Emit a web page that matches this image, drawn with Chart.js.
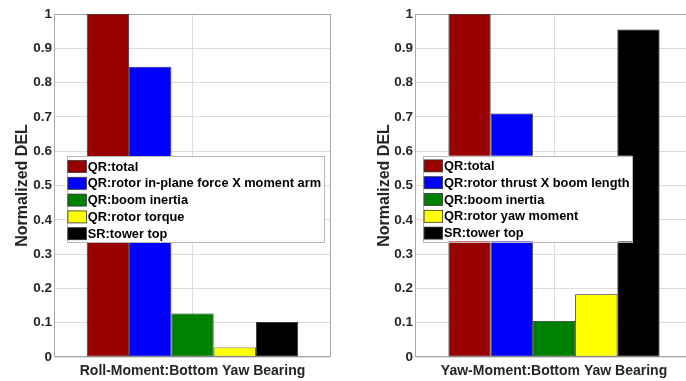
<!DOCTYPE html>
<html>
<head>
<meta charset="utf-8">
<script src="https://cdn.jsdelivr.net/npm/chart.js@4.4.1/dist/chart.umd.min.js"></script>
<style>
  html, body { margin: 0; padding: 0; background: #ffffff; width: 686px; height: 381px; overflow: hidden; }
  canvas.panel { position: absolute; top: 0; }
  #rollChart { left: 0; }
  #yawChart { left: 340px; }
</style>
</head>
<body>
<canvas id="rollChart" class="panel" width="340" height="381"></canvas>
<canvas id="yawChart" class="panel" width="360" height="381"></canvas>
<script>
// Normalized damage-equivalent loads at the bottom yaw bearing
const rollCategory = ['Roll-Moment:Bottom Yaw Bearing'];
const yawCategory = ['Yaw-Moment:Bottom Yaw Bearing'];

const rollSeriesNames = [
  'QR:total',
  'QR:rotor in-plane force X moment arm',
  'QR:boom inertia',
  'QR:rotor torque',
  'SR:tower top'
];
const yawSeriesNames = [
  'QR:total',
  'QR:rotor thrust X boom length',
  'QR:boom inertia',
  'QR:rotor yaw moment',
  'SR:tower top'
];

const rollValues = [1.0, 0.846, 0.127, 0.028, 0.102];
const yawValues = [1.0, 0.710, 0.105, 0.183, 0.955];

const yTickLabels = ['0', '0.1', '0.2', '0.3', '0.4', '0.5', '0.6', '0.7', '0.8', '0.9', '1'];

const seriesColors = ['#990000', '#0000ff', '#008000', '#ffff00', '#000000'];

const FONT = '"Liberation Sans", Arial, Helvetica, sans-serif';
const AXIS_TEXT = '#262626';

// Grey box around the plotting area
const frameBox = {
  id: 'frameBox',
  beforeDatasetsDraw(chart) {
    const a = chart.chartArea, ctx = chart.ctx;
    ctx.save();
    ctx.strokeStyle = '#a9a9a9';
    ctx.lineWidth = 1;
    ctx.strokeRect(Math.round(a.left) - 0.5, Math.round(a.top) + 0.5,
                   Math.round(a.right - a.left) + 1, Math.round(a.bottom - a.top) - 1);
    ctx.restore();
  }
};

// Legend drawn as a boxed list inside the plotting area
const boxLegend = {
  id: 'boxLegend',
  afterDraw(chart, args, opts) {
    const ctx = chart.ctx, area = chart.chartArea;
    const sets = chart.data.datasets;
    ctx.save();
    ctx.font = 'bold 12.8px ' + FONT;
    let maxW = 0;
    sets.forEach(d => { maxW = Math.max(maxW, ctx.measureText(d.label).width); });
    const sw = 18.5, sh = 12, rowH = 16.8, padTop = 10.2, padBottom = 8.4;
    const x0 = area.left + opts.offsetX, y0 = opts.top;
    const w = 1.4 + sw + 1.4 + maxW + 2.5;
    const h = padTop + rowH * (sets.length - 1) + padBottom;
    ctx.fillStyle = '#ffffff';
    ctx.fillRect(x0, y0, w, h);
    ctx.strokeStyle = '#b8b8b8';
    ctx.lineWidth = 1;
    ctx.strokeRect(Math.round(x0) + 0.5, Math.round(y0) + 0.5, Math.round(w), Math.round(h));
    sets.forEach((d, i) => {
      const cy = y0 + padTop + i * rowH;
      const sx = x0 + 1.4;
      ctx.fillStyle = d.backgroundColor;
      ctx.fillRect(sx, cy - sh / 2, sw, sh);
      ctx.strokeStyle = '#333333';
      ctx.lineWidth = 0.8;
      ctx.strokeRect(sx, cy - sh / 2, sw, sh);
      ctx.fillStyle = '#000000';
      ctx.textBaseline = 'middle';
      ctx.textAlign = 'left';
      ctx.fillText(d.label, sx + sw + 1.4, cy + 0.5);
    });
    ctx.restore();
  }
};

function makePanel(canvasId, category, names, values, yAxisWidth, titlePad, padRight, groupFrac, legendOpts) {
  const datasets = names.map((name, i) => ({
    label: name,
    data: [values[i]],
    backgroundColor: seriesColors[i],
    borderColor: '#1f1f1f',
    borderWidth: 0.8,
    borderSkipped: false,
    barPercentage: 1.0,
    categoryPercentage: groupFrac
  }));
  return new Chart(document.getElementById(canvasId), {
    type: 'bar',
    data: { labels: category, datasets },
    plugins: [frameBox, boxLegend],
    options: {
      responsive: false,
      animation: false,
      devicePixelRatio: 1,
      layout: { padding: { left: 0, right: padRight, top: 14, bottom: 0 } },
      plugins: {
        legend: { display: false },
        tooltip: { enabled: false },
        boxLegend: legendOpts
      },
      scales: {
        x: {
          offset: true,
          grid: { offset: false, color: '#dcdcdc', drawTicks: false },
          border: { display: false },
          ticks: {
            color: AXIS_TEXT,
            padding: 6,
            maxRotation: 0,
            font: { family: FONT, size: 14, weight: 'bold' }
          },
          afterFit(scale) { scale.height = 24; }
        },
        y: {
          min: 0,
          max: 1,
          grid: { color: '#dcdcdc', drawTicks: false },
          border: { display: false },
          ticks: {
            stepSize: 0.1,
            padding: 3,
            color: AXIS_TEXT,
            font: { family: FONT, size: 13.5, weight: 'bold' },
            callback: (v, i) => yTickLabels[i]
          },
          title: {
            display: true,
            text: 'Normalized DEL',
            color: AXIS_TEXT,
            padding: { top: titlePad, bottom: 0 },
            font: { family: FONT, size: 16, weight: 'bold' }
          },
          afterFit(scale) { scale.width = yAxisWidth; }
        }
      }
    }
  });
}

makePanel('rollChart', rollCategory, rollSeriesNames, rollValues, 55, 13, 10, 0.769,
          { offsetX: 11.5, top: 156.3 });
makePanel('yawChart', yawCategory, yawSeriesNames, yawValues, 76, 35, 8, 0.765,
          { offsetX: 6.7, top: 155.7 });
</script>
</body>
</html>
